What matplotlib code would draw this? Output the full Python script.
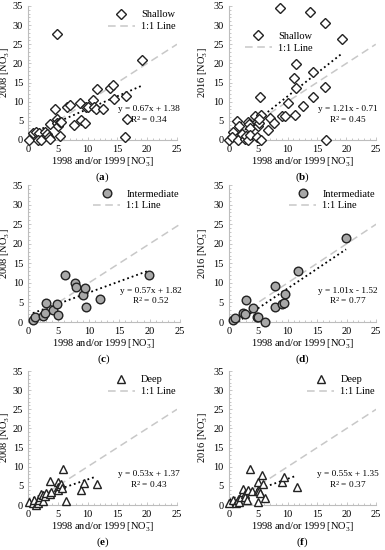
import matplotlib
matplotlib.use("Agg")
import matplotlib.pyplot as plt
from matplotlib.ticker import MultipleLocator
from matplotlib.lines import Line2D
import numpy as np

plt.rcParams['font.family'] = ['Liberation Serif', 'DejaVu Serif']
plt.rcParams['mathtext.fontset'] = 'custom'
plt.rcParams['mathtext.rm'] = 'Liberation Serif'
plt.rcParams['mathtext.bf'] = 'Liberation Serif:bold'
plt.rcParams['mathtext.it'] = 'Liberation Serif:italic'

# shallow wells, 1998/1999 vs 2008
sh_x08 = [0.2, 0.9, 1.35, 1.9, 1.6, 2.2, 2.8, 3.2, 3.5, 3.7, 3.7, 4.6, 4.8, 4.8,
          5.0, 5.3, 5.6, 5.4, 6.5, 7.0, 7.7, 8.7, 8.95, 9.5, 9.7, 10.0, 10.9,
          11.1, 11.4, 11.5, 12.6, 13.7, 14.3, 14.4, 16.4, 16.6, 16.2, 19.2, 4.8]
sh_y08 = [0.0, 1.9, 2.2, 1.9, 0.0, 0.0, 2.2, 1.6, 0.7, 4.3, 0.2, 8.0, 5.4, 4.5,
          3.7, 4.8, 4.8, 1.1, 8.7, 9.2, 4.0, 9.7, 5.2, 4.5, 8.7, 8.7, 10.4,
          8.7, 8.0, 13.3, 8.0, 13.6, 14.3, 10.6, 11.5, 5.4, 0.9, 20.9, 27.6]

# shallow wells, 1998/1999 vs 2016
sh_x16 = [0.1, 0.8, 0.6, 1.4, 1.8, 1.5, 2.3, 2.7, 2.96, 3.25, 3.4, 3.25, 3.6, 3.6,
          4.55, 4.8, 4.9, 5.2, 5.4, 5.5, 5.2, 4.8, 5.5, 6.6, 7.0, 7.7, 9.0, 9.5,
          10.0, 11.2, 11.5, 11.1, 11.5, 12.6, 14.4, 14.4, 16.4, 16.6,
          8.7, 13.9, 16.4, 19.2]
sh_y16 = [0.0, 2.2, 0.7, 5.0, 3.7, 0.0, 1.6, 0.2, 1.0, 4.8, 4.2, 0.0, 3.0, 1.3,
          6.3, 4.8, 3.7, 4.5, 11.3, 6.5, 5.6, 0.7, 0.0, 2.5, 5.7, 4.5, 6.3, 6.3,
          9.6, 6.4, 13.7, 16.1, 19.8, 8.8, 11.3, 17.8, 13.9, 0.0,
          34.6, 33.5, 30.6, 26.3]

# intermediate wells
in_x = [0.8, 1.1, 2.4, 2.8, 3.0, 4.1, 4.8, 5.0, 6.1, 7.8, 7.9, 9.0, 9.3, 9.6, 11.8, 19.9]
in_y08 = [0.6, 1.3, 1.5, 2.3, 4.8, 3.0, 4.7, 1.9, 12.1, 9.9, 9.0, 7.0, 8.8, 3.9, 5.8, 12.1]
in_y16 = [0.6, 1.0, 2.3, 2.0, 5.6, 3.5, 1.4, 1.3, 0.0, 3.9, 9.2, 4.6, 4.8, 7.1, 13.0, 21.5]

# deep wells
dp_x08 = [0.1, 0.8, 1.07, 1.34, 1.6, 1.9, 2.0, 2.2, 2.45, 2.6, 2.9, 3.1, 3.7, 3.9,
          3.7, 5.0, 5.0, 5.0, 5.3, 5.6, 5.7, 5.8, 6.3, 8.9, 9.45, 11.5]
dp_y08 = [0.9, 0.4, 1.3, 0.0, 0.4, 1.3, 2.2, 3.0, 1.0, 2.6, 2.3, 3.2, 3.0, 3.5,
          6.3, 6.0, 4.6, 3.8, 4.9, 5.4, 4.5, 9.3, 1.0, 3.8, 5.7, 5.5]
dp_x16 = [0.11, 0.67, 1.24, 1.5, 1.8, 2.1, 2.4, 2.5, 2.7, 2.8, 3.05, 3.2, 3.6, 3.96,
          4.9, 4.9, 5.2, 5.3, 4.9, 5.7, 5.9, 6.2, 9.0, 9.4, 11.5]
dp_y16 = [0.4, 1.3, 0.4, 1.3, 0.9, 2.2, 3.5, 4.3, 3.0, 2.2, 1.3, 3.9, 9.3, 3.7,
          6.1, 3.9, 3.7, 3.2, 0.9, 7.9, 5.5, 1.9, 6.1, 7.2, 4.6]

panels = [
    ('a', sh_x08, sh_y08, '2008', 'Shallow', 'D', 'white', (0.67, 1.38), 0.34),
    ('b', sh_x16, sh_y16, '2016', 'Shallow', 'D', 'white', (1.21, -0.71), 0.45),
    ('c', in_x, in_y08, '2008', 'Intermediate', 'o', '#a8a8a8', (0.57, 1.82), 0.52),
    ('d', in_x, in_y16, '2016', 'Intermediate', 'o', '#a8a8a8', (1.01, -1.52), 0.77),
    ('e', dp_x08, dp_y08, '2008', 'Deep', '^', 'white', (0.53, 1.37), 0.43),
    ('f', dp_x16, dp_y16, '2016', 'Deep', '^', 'white', (0.55, 1.35), 0.37),
]

boxes = [
    [0.0727, 0.7455, 0.387, 0.2436], [0.594, 0.7455, 0.382, 0.2436],
    [0.0727, 0.4145, 0.395, 0.249], [0.594, 0.4145, 0.383, 0.249],
    [0.0727, 0.0818, 0.387, 0.2436], [0.594, 0.0818, 0.383, 0.2436],
]

fig = plt.figure(figsize=(3.85, 5.5), dpi=100)
fs = 7.5
msize = {'D': 4.8, 'o': 6.2, '^': 5.8}

for i, ((tag, x, y, yr, name, mk, fc, (m, b), r2), box) in enumerate(zip(panels, boxes)):
    ax = fig.add_axes(box)
    x = np.array(x)
    ax.plot([0, 25], [0, 25], color='#c8c8c8', ls=(0, (5, 3)), lw=1.1, zorder=1)
    xs = np.linspace(x.min(), x.max(), 50)
    ys = m * xs + b
    keep = ys >= 0
    ax.plot(xs[keep], ys[keep], color='black', ls=':', lw=1.3, zorder=2)
    ax.plot(x, y, ls='none', marker=mk, ms=msize[mk], mfc=fc, mec='#222222',
            mew=1.0, zorder=3, clip_on=False)
    ax.set_xlim(0, 25)
    ax.set_ylim(0, 35)
    ax.xaxis.set_major_locator(MultipleLocator(5))
    ax.yaxis.set_major_locator(MultipleLocator(5))
    ax.xaxis.set_minor_locator(MultipleLocator(1))
    ax.yaxis.set_minor_locator(MultipleLocator(1))
    for s in ['top', 'right']:
        ax.spines[s].set_visible(False)
    for s in ['left', 'bottom']:
        ax.spines[s].set_color('#bdbdbd')
        ax.spines[s].set_linewidth(0.8)
    ax.tick_params(which='both', labelsize=fs, color='#bdbdbd', width=0.6,
                   direction='in', pad=3.5)
    ax.tick_params(which='major', length=2.5)
    ax.tick_params(which='minor', length=1.5)
    ax.set_ylabel(yr + r' [NO$_3^{-}$]', fontsize=fs)
    off = 16 if i % 2 == 0 else 18.5
    ax.yaxis.set_label_coords(-off / (box[2] * 385), 0.5)
    ax.set_xlabel(r'1998 and/or 1999 [NO$_3^{-}$]', fontsize=fs, labelpad=1)
    sign = '+' if b >= 0 else '-'
    ax.text(20.2, 8.0, 'y = %.2fx %s %.2f' % (m, sign, abs(b)), fontsize=fs - 0.8,
            ha='center', va='center')
    ax.text(20.2, 5.4, r'R$^2$ = %.2f' % r2, fontsize=fs - 0.8, ha='center', va='center')
    h = [Line2D([], [], ls='none', marker=mk, ms=msize[mk], mfc=fc, mec='#222222', mew=1.0),
         Line2D([], [], color='#c8c8c8', ls=(0, (5, 3)), lw=1.1)]
    if tag == 'b':
        ax.legend(h, [name, '1:1 Line'], loc='upper left', bbox_to_anchor=(0.08, 0.84),
                  frameon=False, fontsize=fs, handlelength=2.6, borderaxespad=0,
                  labelspacing=0.25, handletextpad=0.6)
    else:
        ax.legend(h, [name, '1:1 Line'], loc='upper right', bbox_to_anchor=(1.02, 1.0),
                  frameon=False, fontsize=fs, handlelength=2.6, borderaxespad=0,
                  labelspacing=0.25, handletextpad=0.6)
    cx = box[0] + box[2] / 2
    fig.text(cx, box[1] - 0.067, r'($\mathbf{%s}$)' % tag, fontsize=fs + 0.5,
             ha='center', va='center')

fig.savefig('out.png', dpi=100)
